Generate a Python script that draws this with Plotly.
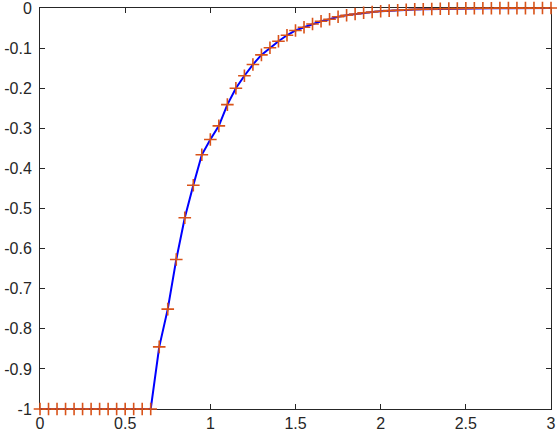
import plotly.graph_objects as go

x_vals = [round(0.05 * i, 2) for i in range(61)]
y_vals = [
    -1, -1, -1, -1, -1, -1, -1, -1, -1, -1, -1, -1, -1, -1,
    -0.845, -0.751, -0.627, -0.523, -0.442, -0.366, -0.328, -0.294, -0.241, -0.200,
    -0.169, -0.141, -0.117, -0.099, -0.083, -0.068, -0.056, -0.048, -0.040, -0.033,
    -0.028, -0.022, -0.018, -0.015, -0.012, -0.010, -0.008, -0.0065, -0.0055, -0.0045,
    -0.0035, -0.003, -0.0025, -0.002, -0.0015, -0.0013, -0.001, -0.0008, -0.0007,
    -0.0005, -0.0004, -0.0003, -0.0003, -0.0002, -0.0002, -0.0001, -0.0001,
]
x_ticks = [0, 0.5, 1, 1.5, 2, 2.5, 3]
x_tick_text = ["0", "0.5", "1", "1.5", "2", "2.5", "3"]
y_ticks = [0, -0.1, -0.2, -0.3, -0.4, -0.5, -0.6, -0.7, -0.8, -0.9, -1]
y_tick_text = ["0", "-0.1", "-0.2", "-0.3", "-0.4", "-0.5", "-0.6", "-0.7", "-0.8", "-0.9", "-1"]

fig = go.Figure()
fig.add_trace(go.Scatter(
    x=x_vals, y=y_vals, mode="lines",
    line=dict(color="#0000FF", width=2),
    cliponaxis=False, showlegend=False,
))
fig.add_trace(go.Scatter(
    x=x_vals, y=y_vals, mode="markers",
    marker=dict(symbol="cross-thin", size=9, line=dict(color="#D95319", width=1.6)),
    cliponaxis=False, showlegend=False,
))

axis_common = dict(
    showgrid=False, zeroline=False, showline=True, linecolor="#262626", linewidth=1,
    mirror="ticks", ticks="inside", ticklen=5, tickcolor="#262626",
    tickfont=dict(family="Liberation Sans, Arial, sans-serif", size=16, color="#262626"),
    layer="below traces", automargin=False, ticklabeloverflow="allow",
)
fig.update_xaxes(range=[-1e-6, 3 + 1e-6], tickvals=x_ticks, ticktext=x_tick_text,
                 **axis_common)
fig.update_yaxes(range=[-1 - 1e-6, 1e-6], tickvals=y_ticks, ticktext=y_tick_text,
                 ticklabelstandoff=4, **axis_common)

fig.update_layout(
    width=557, height=436,
    margin=dict(l=40, r=6, t=8, b=27, autoexpand=False),
    paper_bgcolor="white", plot_bgcolor="white",
)
fig.write_html(
    "out.html",
    config={"displayModeBar": False},
    post_script="document.body.style.margin='0';document.body.style.overflow='hidden';",
)
